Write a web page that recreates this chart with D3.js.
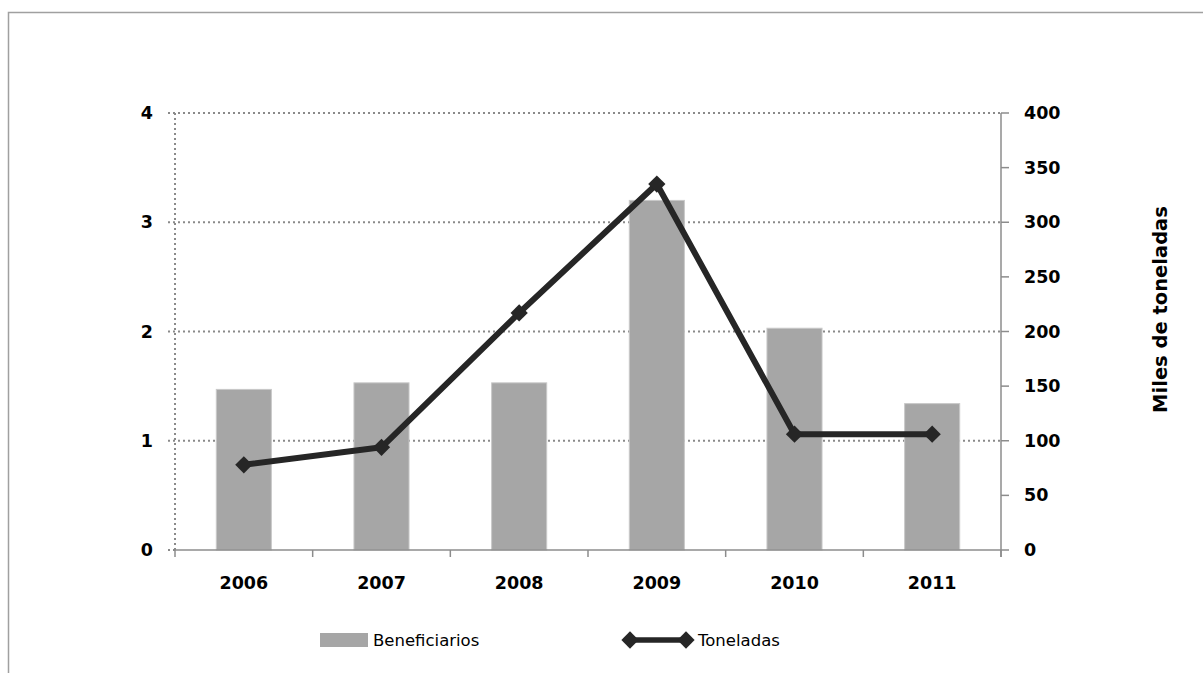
<!DOCTYPE html>
<html>
<head>
<meta charset="utf-8">
<script src="https://cdn.jsdelivr.net/npm/d3@7"></script>
<style>
  body { margin: 0; background: #fff; }
  svg { display: block; }
  text { font-family: "DejaVu Sans", sans-serif; fill: #000; }
</style>
</head>
<body>
<svg id="chart" width="1203" height="673"></svg>
<script>
// data
var years = ["2006", "2007", "2008", "2009", "2010", "2011"];
var beneficiarios = [1.47, 1.53, 1.53, 3.20, 2.03, 1.34];
var toneladas = [78, 94, 217, 335, 106, 106];
var leftTicks = [0, 1, 2, 3, 4];
var rightTicks = [0, 50, 100, 150, 200, 250, 300, 350, 400];

var svg = d3.select("#chart");
var plotL = 175, plotR = 1001, plotT = 113, plotB = 550;
var gridColor = "#8a8a8a";

// outer frame (runs off the right/bottom edge)
svg.append("rect")
    .attr("x", 8.5).attr("y", 12.5)
    .attr("width", 1400).attr("height", 900)
    .attr("fill", "none").attr("stroke", "#a0a0a0").attr("stroke-width", 1.5);

var x = d3.scaleBand().domain(years).range([plotL, plotR])
    .paddingInner(0.6).paddingOuter(0.3);
var yL = d3.scaleLinear().domain([0, 4]).range([plotB, plotT]);
var yR = d3.scaleLinear().domain([0, 400]).range([plotB, plotT]);

// dotted gridlines
svg.append("g").selectAll("line")
    .data(leftTicks)
    .enter().append("line")
    .attr("x1", plotL - 7)
    .attr("x2", function(d){ return d > 0 ? plotR : plotL; })
    .attr("y1", function(d){ return yL(d); })
    .attr("y2", function(d){ return yL(d); })
    .attr("stroke", gridColor).attr("stroke-width", 2)
    .attr("stroke-dasharray", "2,3");

// dotted left axis
svg.append("line")
    .attr("x1", plotL).attr("x2", plotL)
    .attr("y1", plotT).attr("y2", plotB)
    .attr("stroke", gridColor).attr("stroke-width", 2)
    .attr("stroke-dasharray", "2,3");

// bars
svg.append("g").selectAll("rect")
    .data(years)
    .enter().append("rect")
    .attr("x", function(d){ return x(d); })
    .attr("y", function(d, i){ return yL(beneficiarios[i]); })
    .attr("width", x.bandwidth())
    .attr("height", function(d, i){ return plotB - yL(beneficiarios[i]); })
    .attr("fill", "#a6a6a6")
    .attr("stroke", "#c8c8c8").attr("stroke-width", 1);

// bottom axis
var xAxis = svg.append("g");
xAxis.append("line")
    .attr("x1", plotL).attr("x2", plotR)
    .attr("y1", plotB).attr("y2", plotB)
    .attr("stroke", "#8c8c8c").attr("stroke-width", 1.5);
xAxis.selectAll("line.tick")
    .data(d3.range(years.length + 1))
    .enter().append("line")
    .attr("class", "tick")
    .attr("x1", function(i){ return plotL + i * x.step(); })
    .attr("x2", function(i){ return plotL + i * x.step(); })
    .attr("y1", plotB).attr("y2", plotB + 7)
    .attr("stroke", "#8c8c8c").attr("stroke-width", 1.5);
xAxis.selectAll("text")
    .data(years)
    .enter().append("text")
    .attr("x", function(d){ return x(d) + x.bandwidth() / 2; })
    .attr("y", plotB + 39)
    .attr("text-anchor", "middle")
    .attr("font-size", 17.5).attr("font-weight", "bold")
    .text(function(d){ return d; });

// left labels
svg.append("g").selectAll("text")
    .data(leftTicks)
    .enter().append("text")
    .attr("x", plotL - 22)
    .attr("y", function(d){ return yL(d) + 6; })
    .attr("text-anchor", "end")
    .attr("font-size", 17.5).attr("font-weight", "bold")
    .text(function(d){ return d; });

// right axis
var rAxis = svg.append("g");
rAxis.append("line")
    .attr("x1", plotR).attr("x2", plotR)
    .attr("y1", plotT).attr("y2", plotB + 7)
    .attr("stroke", "#8c8c8c").attr("stroke-width", 1.5);
rAxis.selectAll("line.tick")
    .data(rightTicks)
    .enter().append("line")
    .attr("class", "tick")
    .attr("x1", plotR).attr("x2", plotR + 8)
    .attr("y1", function(d){ return yR(d); })
    .attr("y2", function(d){ return yR(d); })
    .attr("stroke", "#8c8c8c").attr("stroke-width", 1.5);
rAxis.selectAll("text")
    .data(rightTicks)
    .enter().append("text")
    .attr("x", plotR + 23)
    .attr("y", function(d){ return yR(d) + 6; })
    .attr("font-size", 17.5).attr("font-weight", "bold")
    .text(function(d){ return d; });

svg.append("text")
    .attr("transform", "translate(1167," + ((plotT + plotB) / 2 - 22) + ") rotate(-90)")
    .attr("text-anchor", "middle")
    .attr("font-size", 19.5).attr("font-weight", "bold")
    .text("Miles de toneladas");

// line series
var line = d3.line()
    .x(function(d, i){ return x(years[i]) + x.bandwidth() / 2; })
    .y(function(d){ return yR(d); });
svg.append("path")
    .datum(toneladas)
    .attr("d", line)
    .attr("fill", "none")
    .attr("stroke", "#262626").attr("stroke-width", 6)
    .attr("stroke-linejoin", "round");

var diamond = d3.symbol().type(d3.symbolDiamond2).size(190);
svg.append("g").selectAll("path")
    .data(toneladas)
    .enter().append("path")
    .attr("d", diamond)
    .attr("transform", function(d, i){
        return "translate(" + (x(years[i]) + x.bandwidth() / 2) + "," + yR(d) + ")";
    })
    .attr("fill", "#262626");

// legend
var leg = svg.append("g");
leg.append("rect")
    .attr("x", 320).attr("y", 633)
    .attr("width", 48).attr("height", 14)
    .attr("fill", "#a6a6a6");
leg.append("text")
    .attr("x", 373).attr("y", 646)
    .attr("font-size", 16.5)
    .text("Beneficiarios");
leg.append("line")
    .attr("x1", 630).attr("x2", 686)
    .attr("y1", 640).attr("y2", 640)
    .attr("stroke", "#262626").attr("stroke-width", 5.5);
[630, 686].forEach(function(px){
    leg.append("path")
        .attr("d", diamond)
        .attr("transform", "translate(" + px + ",640)")
        .attr("fill", "#262626");
});
leg.append("text")
    .attr("x", 698).attr("y", 646)
    .attr("font-size", 16.5)
    .text("Toneladas");
</script>
</body>
</html>
